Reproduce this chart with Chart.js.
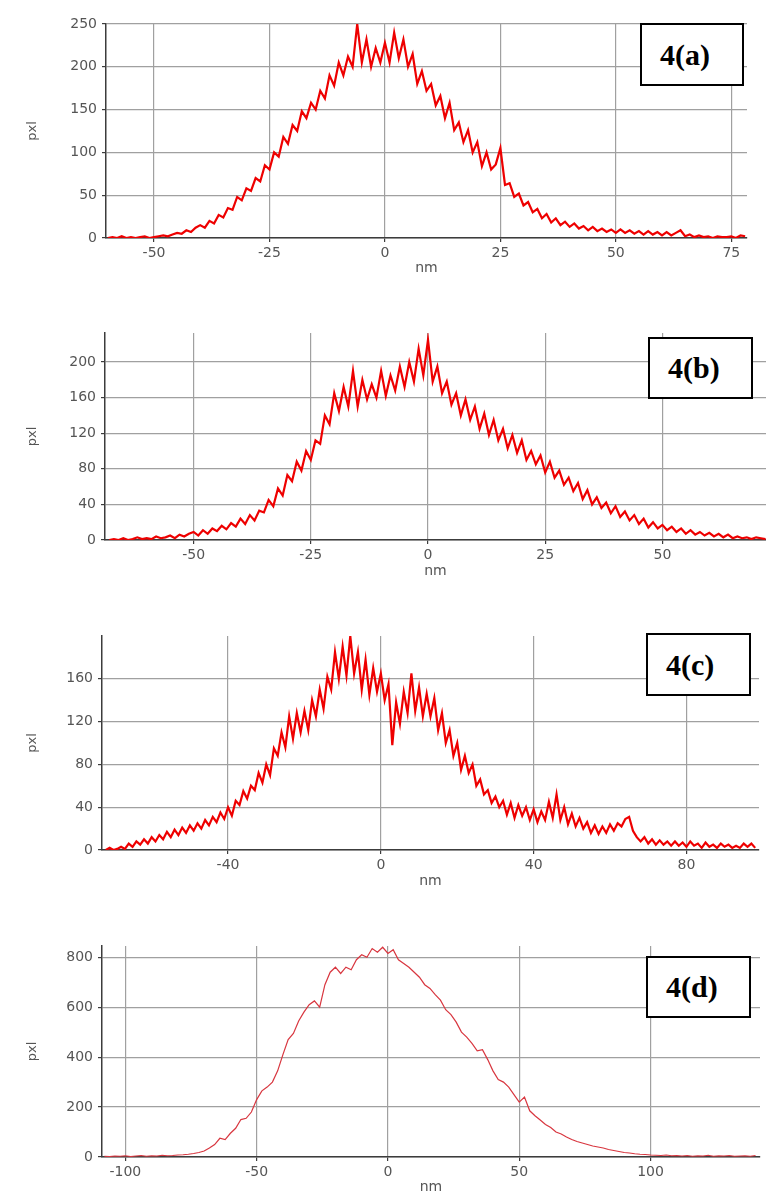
<!DOCTYPE html>
<html>
<head>
<meta charset="utf-8">
<script src="https://cdn.jsdelivr.net/npm/chart.js@4.4.0/dist/chart.umd.min.js"></script>
<style>
  body { margin: 0; background: #fff; width: 766px; height: 1194px; position: relative; overflow: hidden; }
  canvas { position: absolute; left: 0; }
  .tag {
    position: absolute; box-sizing: border-box; border: 2px solid #000; background: #fff;
    font: bold 30px "Liberation Serif", "Times New Roman", serif; color: #000;
    padding-left: 18px; display: flex; align-items: center;
  }
</style>
</head>
<body>
<canvas id="chartA" width="766" height="290" style="top:0px"></canvas>
<canvas id="chartB" width="766" height="300" style="top:290px"></canvas>
<canvas id="chartC" width="766" height="310" style="top:590px"></canvas>
<canvas id="chartD" width="766" height="300" style="top:900px"></canvas>

<div class="tag" style="left:640px;top:23px;width:104px;height:63px">4(a)</div>
<div class="tag" style="left:648px;top:337px;width:105px;height:62px">4(b)</div>
<div class="tag" style="left:646px;top:633px;width:105px;height:63px">4(c)</div>
<div class="tag" style="left:646px;top:956px;width:105px;height:62px">4(d)</div>

<script>
// profile data (x in nm, y in pxl)

const xA = [
  -60,-59,-58,-57,-56,-55,-54,-53,-52,-51,
  -50,-49,-48,-47,-46,-45,-44,-43,-42,-41,
  -40,-39,-38,-37,-36,-35,-34,-33,-32,-31,
  -30,-29,-28,-27,-26,-25,-24,-23,-22,-21,
  -20,-19,-18,-17,-16,-15,-14,-13,-12,-11,
  -10,-9,-8,-7,-6,-5,-4,-3,-2,-1,
  0,1,2,3,4,5,6,7,8,9,
  10,11,12,13,14,15,16,17,18,19,
  20,21,22,23,24,25,26,27,28,29,
  30,31,32,33,34,35,36,37,38,39,
  40,41,42,43,44,45,46,47,48,49,
  50,51,52,53,54,55,56,57,58,59,
  60,61,62,63,64,65,66,67,68,69,
  70,71,72,73,74,75,76,77,78
];
const yA = [
  0,1,0,2,0,1,0,1,2,0,
  1,2,3,2,4,6,5,9,7,12,
  15,12,20,17,27,24,35,33,48,44,
  58,55,70,66,85,80,100,95,118,110,
  132,125,148,140,158,150,172,163,190,178,
  205,190,212,200,250,205,232,200,222,205,
  228,205,240,210,232,200,215,180,195,172,
  180,155,166,140,158,126,135,112,126,100,
  112,84,100,80,86,105,62,64,48,52,
  38,42,30,34,23,28,18,23,15,19,
  13,17,11,14,9,13,8,11,7,10,
  6,10,6,9,5,8,4,8,4,7,
  3,7,3,6,9,2,4,1,3,1,
  2,0,2,1,1,2,0,3,2
];

const xB = [
  -68,-67,-66,-65,-64,-63,-62,-61,-60,-59,-58,-57,-56,
  -55,-54,-53,-52,-51,-50,-49,-48,-47,-46,
  -45,-44,-43,-42,-41,-40,-39,-38,-37,-36,
  -35,-34,-33,-32,-31,-30,-29,-28,-27,-26,
  -25,-24,-23,-22,-21,-20,-19,-18,-17,-16,
  -15,-14,-13,-12,-11,-10,-9,-8,-7,-6,
  -5,-4,-3,-2,-1,0,1,2,3,4,
  5,6,7,8,9,10,11,12,13,14,
  15,16,17,18,19,20,21,22,23,24,
  25,26,27,28,29,30,31,32,33,34,
  35,36,37,38,39,40,41,42,43,44,
  45,46,47,48,49,50,51,52,53,54,
  55,56,57,58,59,60,61,62,63,64,
  65,66,67,68,69,70,71,72
];
const yB = [
  0,1,0,2,0,1,3,1,2,1,4,2,3,
  5,2,6,4,7,9,5,11,7,13,
  10,16,12,19,15,24,18,28,22,33,
  31,45,38,58,50,73,66,88,78,100,
  90,112,108,140,130,165,145,172,150,190,
  150,180,158,175,160,190,162,185,168,195,
  172,200,178,215,185,225,178,195,165,178,
  152,165,140,158,135,150,125,142,118,135,
  112,125,103,118,98,112,90,100,85,95,
  76,88,70,78,62,70,55,64,46,56,
  40,48,36,42,30,38,26,32,22,28,
  18,24,14,20,13,17,11,15,9,13,
  7,11,6,9,5,8,4,7,3,6,
  2,4,2,3,1,3,2,1
];

const xC = [
  -72,-71,-70,-69,-68,-67,-66,-65,-64,-63,
  -62,-61,-60,-59,-58,-57,-56,-55,-54,-53,
  -52,-51,-50,-49,-48,-47,-46,-45,-44,-43,
  -42,-41,-40,-39,-38,-37,-36,-35,-34,-33,
  -32,-31,-30,-29,-28,-27,-26,-25,-24,-23,
  -22,-21,-20,-19,-18,-17,-16,-15,-14,-13,
  -12,-11,-10,-9,-8,-7,-6,-5,-4,-3,
  -2,-1,0,1,2,3,4,5,6,7,
  8,9,10,11,12,13,14,15,16,17,
  18,19,20,21,22,23,24,25,26,27,
  28,29,30,31,32,33,34,35,36,37,
  38,39,40,41,42,43,44,45,46,47,
  48,49,50,51,52,53,54,55,56,57,
  58,59,60,61,62,63,64,65,66,67,
  68,69,70,71,72,73,74,75,76,77,
  78,79,80,81,82,83,84,85,86,87,
  88,89,90,91,92,93,94,95,96,97,98
];
const yC = [
  0,2,0,1,3,1,6,3,8,5,
  10,6,12,8,14,10,17,12,19,14,
  21,16,23,18,25,20,28,23,31,26,
  35,29,40,32,46,42,55,48,60,56,
  72,63,80,70,95,88,110,96,125,104,
  128,110,130,112,140,125,150,132,162,150,
  185,160,190,163,200,165,185,150,178,145,
  170,148,165,140,155,98,138,118,148,128,
  165,130,152,125,146,125,142,112,128,100,
  112,88,100,75,88,72,80,60,66,52,
  56,44,50,40,46,33,44,30,42,32,
  40,28,38,26,36,28,45,30,52,28,
  40,24,34,22,30,20,26,16,23,15,
  22,16,24,18,25,22,29,31,18,12,
  8,12,6,10,5,9,5,8,4,8,
  4,7,3,8,4,6,2,7,3,5,
  2,6,3,5,2,4,2,6,3,6,2
];

const xD = [
  -108,-106,-104,-102,-100,-98,-96,-94,-92,-90,
  -88,-86,-84,-82,-80,-78,-76,-74,-72,-70,
  -68,-66,-64,-62,-60,-58,-56,-54,-52,-50,
  -48,-46,-44,-42,-40,-38,-36,-34,-32,-30,
  -28,-26,-24,-22,-20,-18,-16,-14,-12,-10,
  -8,-6,-4,-2,0,2,4,6,8,10,
  12,14,16,18,20,22,24,26,28,30,
  32,34,36,38,40,42,44,46,48,50,
  52,54,56,58,60,62,64,66,68,70,
  72,74,76,78,80,82,84,86,88,90,
  92,94,96,98,100,102,104,106,108,110,
  112,114,116,118,120,122,124,126,128,130,132,134,136,138,140
];
const yD = [
  3,2,4,3,5,2,4,6,3,5,
  4,7,5,6,8,9,11,14,18,24,
  36,50,75,70,95,115,150,155,180,230,
  265,280,300,345,410,470,495,545,580,610,
  625,600,690,740,760,735,760,750,790,810,
  800,835,820,840,815,830,790,775,760,740,
  720,690,675,650,628,590,570,540,500,480,
  455,425,430,390,345,310,300,280,250,220,
  240,185,165,148,130,118,100,92,80,70,
  62,56,50,44,40,36,30,26,22,18,
  16,13,11,10,8,7,6,8,5,6,
  4,6,3,5,4,7,3,5,4,6,3,4,5,3,6
];

// axis ticks per panel
const xTicksA = [-50, -25, 0, 25, 50, 75];
const yTicksA = [0, 50, 100, 150, 200, 250];
const xTicksB = [-50, -25, 0, 25, 50];
const yTicksB = [0, 40, 80, 120, 160, 200];
const xTicksC = [-40, 0, 40, 80];
const yTicksC = [0, 40, 80, 120, 160];
const xTicksD = [-100, -50, 0, 50, 100];
const yTicksD = [0, 200, 400, 600, 800];

const GRID = "#a0a0a0";
const AXIS = "#3c3c3c";
const TEXT = "#555555";
const tickFont = { family: "DejaVu Sans", size: 14 };
const titleFont = { family: "DejaVu Sans", size: 13 };

function buildPanel(id, xs, ys, o) {
  const canvas = document.getElementById(id);
  const H = canvas.height;
  const points = xs.map((x, i) => ({ x: x, y: ys[i] }));

  return new Chart(canvas, {
    type: "line",
    data: {
      datasets: [{
        data: points,
        borderColor: o.color,
        borderWidth: o.width,
        borderJoinStyle: "miter",
        pointRadius: 0,
        tension: 0,
        fill: false,
      }],
    },
    options: {
      responsive: false,
      animation: false,
      events: [],
      layout: { padding: { left: 0, right: 766 - o.right, top: o.top, bottom: 0 } },
      plugins: { legend: { display: false }, tooltip: { enabled: false } },
      scales: {
        x: {
          type: "linear",
          min: o.xMin,
          max: o.xMax,
          afterBuildTicks: (s) => { s.ticks = o.xTicks.map((v) => ({ value: v })); },
          afterFit: (s) => { s.height = H - o.bottom; },
          grid: { color: GRID, lineWidth: 1.2, tickColor: AXIS, tickLength: 4 },
          border: { color: AXIS, width: 1.5 },
          ticks: { color: TEXT, font: tickFont, padding: 3, maxRotation: 0, autoSkip: false },
          title: { display: true, text: "nm", color: TEXT, font: tickFont, padding: { top: 0, bottom: o.nmPad } },
        },
        y: {
          type: "linear",
          min: 0,
          max: o.yMax,
          afterBuildTicks: (s) => { s.ticks = o.yTicks.map((v) => ({ value: v })); },
          afterFit: (s) => { s.width = o.left; },
          grid: { color: GRID, lineWidth: 1.2, tickColor: AXIS, tickLength: 4 },
          border: { color: AXIS, width: 1.5 },
          ticks: { color: TEXT, font: tickFont, padding: 5, autoSkip: false },
          title: { display: true, text: "pxl", color: TEXT, font: titleFont, padding: { top: 25, bottom: 0 } },
        },
      },
    },
  });
}

buildPanel("chartA", xA, yA, {
  left: 106, right: 747, top: 24, bottom: 238, nmPad: 13,
  xMin: -60.4, xMax: 78.4, yMax: 250, xTicks: xTicksA, yTicks: yTicksA,
  color: "#ee0000", width: 2.2,
});
buildPanel("chartB", xB, yB, {
  left: 105, right: 766, top: 43, bottom: 250, nmPad: 10,
  xMin: -68.9, xMax: 72.1, yMax: 232.6, xTicks: xTicksB, yTicks: yTicksB,
  color: "#ee0000", width: 2.2,
});
buildPanel("chartC", xC, yC, {
  left: 102, right: 759, top: 46, bottom: 260, nmPad: 10,
  xMin: -73, xMax: 99, yMax: 200, xTicks: xTicksC, yTicks: yTicksC,
  color: "#ee0000", width: 2.2,
});
buildPanel("chartD", xD, yD, {
  left: 102, right: 760, top: 46, bottom: 257, nmPad: 4,
  xMin: -108.9, xMax: 141.7, yMax: 845, xTicks: xTicksD, yTicks: yTicksD,
  color: "#d8363f", width: 1.2,
});
</script>
</body>
</html>
